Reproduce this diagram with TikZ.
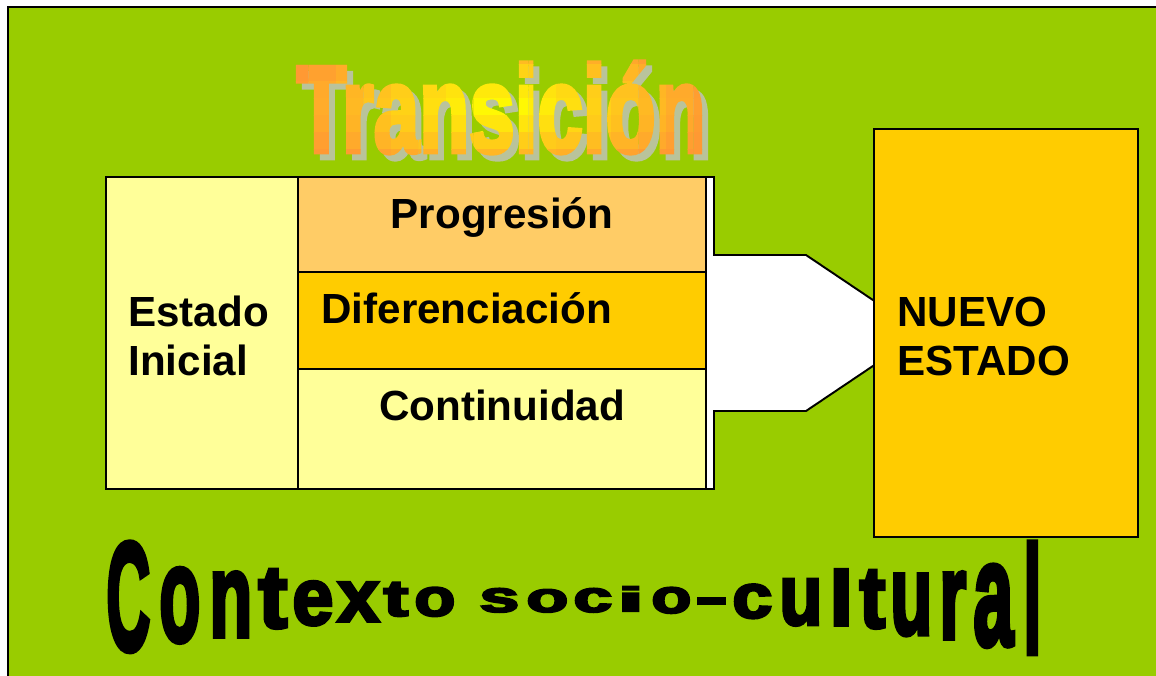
\documentclass[tikz,border=0pt]{standalone}
\usepackage{fontspec}
\setmainfont{Liberation Sans}
\newfontfamily\heavyfamily{Liberation Sans}[UprightFont={* Bold}, FakeBold=4]

\definecolor{bggreen}{HTML}{99CC00}
\definecolor{paleyellow}{HTML}{FFFF99}
\definecolor{lightorange}{HTML}{FFCC66}
\definecolor{gold}{HTML}{FFCC00}
\definecolor{torange}{HTML}{FF9933}
\definecolor{tyellow}{HTML}{FFFF00}
\definecolor{shadowgray}{RGB}{185,195,155}

\newcommand{\transfont}{\heavyfamily\fontsize{70}{70}\selectfont}

\tikzset{
  box/.style={draw, rectangle, line width=1.1pt, inner sep=0pt, outer sep=0pt},
  boxtext/.style={font=\bfseries\fontsize{24}{27.8}\selectfont, inner sep=0pt},
  wordart/.style={anchor=base, inner sep=0pt, font=\transfont},
}

\begin{document}
\begin{tikzpicture}[x=0.02cm, y=-0.02cm]
	\useasboundingbox (0,0) rectangle (1156,676);
	\fill[white] (0,0) rectangle (1156,676);
	\fill[bggreen] (8,7) rectangle (1156,676);
	\draw[line width=1.7pt] (8,676) -- (8,7) -- (1156,7);

	% Title
	\node (title) [wordart, text=shadowgray] at (507,158) {\scalebox{0.665}[1]{Transición}};
	\foreach \cx in {0,...,15} {
		\foreach \cy in {0,...,7} {
			\pgfmathsetmacro\mixo{min(100,100*sqrt(((\cx+0.5-8)/8)^2+((\cy+0.5-4.4)/4.4)^2))}
			\begin{scope}
				\clip (281+\cx*27.5,30+\cy*17) rectangle ++(27.5,17);
				\node (title\cx-\cy) [wordart, text=torange!\mixo!tyellow] at (501,152) {\scalebox{0.665}[1]{Transición}};
			\end{scope}
		}
	}

	% Arrow
	\draw[box, fill=white] (700,177) -- (714,177) -- (714,255) -- (806,255) -- (922,333) -- (806,411) -- (714,411) -- (714,489) -- (700,489) -- cycle;

	% Boxes
	\node (box1) [box, fill=paleyellow, minimum width=3.84cm, minimum height=6.24cm] at (202,333) {};
	\node (box2) [box, fill=lightorange, minimum width=8.16cm, minimum height=1.9cm] at (502,224.5) {};
	\node (box3) [box, fill=gold, minimum width=8.16cm, minimum height=1.94cm] at (502,320.5) {};
	\node (box4) [box, fill=paleyellow, minimum width=8.16cm, minimum height=2.4cm] at (502,429) {};
	\node (box5) [box, fill=gold, minimum width=5.28cm, minimum height=8.16cm] at (1006,333) {};

	% Texts
	\node (txt1) [boxtext, anchor=north west, align=left] at (128,296) {Estado\\Inicial};
	\node (txt2) [boxtext, anchor=base] at (502,228) {Progresión};
	\node (txt3) [boxtext, anchor=base west] at (321,323) {Diferenciación};
	\node (txt4) [boxtext, anchor=base] at (502,420) {Continuidad};
	\node (txt5) [boxtext, anchor=north west, align=left] at (897,297) {NUEVO\\ESTADO};

	% Contexto socio-cultural
	\foreach \ch/\xa/\xb/\ya/\yb [count=\i, evaluate=\xb as \w using (\xb-\xa)*0.02, evaluate=\yb as \h using (\yb-\ya)*0.02] in
		{C/106/150/542/651, o/159/200/568/642, n/209/252/572/636, t/258/287/569/628,
		 e/292/333/581/625, x/337/379/582/621, t/383/408/582/616, o/414/455/587/616,
		 s/479/519/588/612, o/526/568/589/612, c/573/612/588/612, i/617/644/586/611,
		 o/651/691/587/613, {\rule{1pt}{1pt}}/697/726/597/605, c/732/772/584/618, u/779/822/579/625,
		 l/829/853/569/625, t/859/885/570/628, u/890/932/574/635, r/939/966/572/638,
		 a/973/1013/565/646, l/1023/1041/542/653}
		\node (ctx\i) [anchor=north west, inner sep=0pt, font=\heavyfamily] at (\xa,\ya) {\resizebox*{\w cm}{\h cm}{\ch}};
\end{tikzpicture}
\end{document}
